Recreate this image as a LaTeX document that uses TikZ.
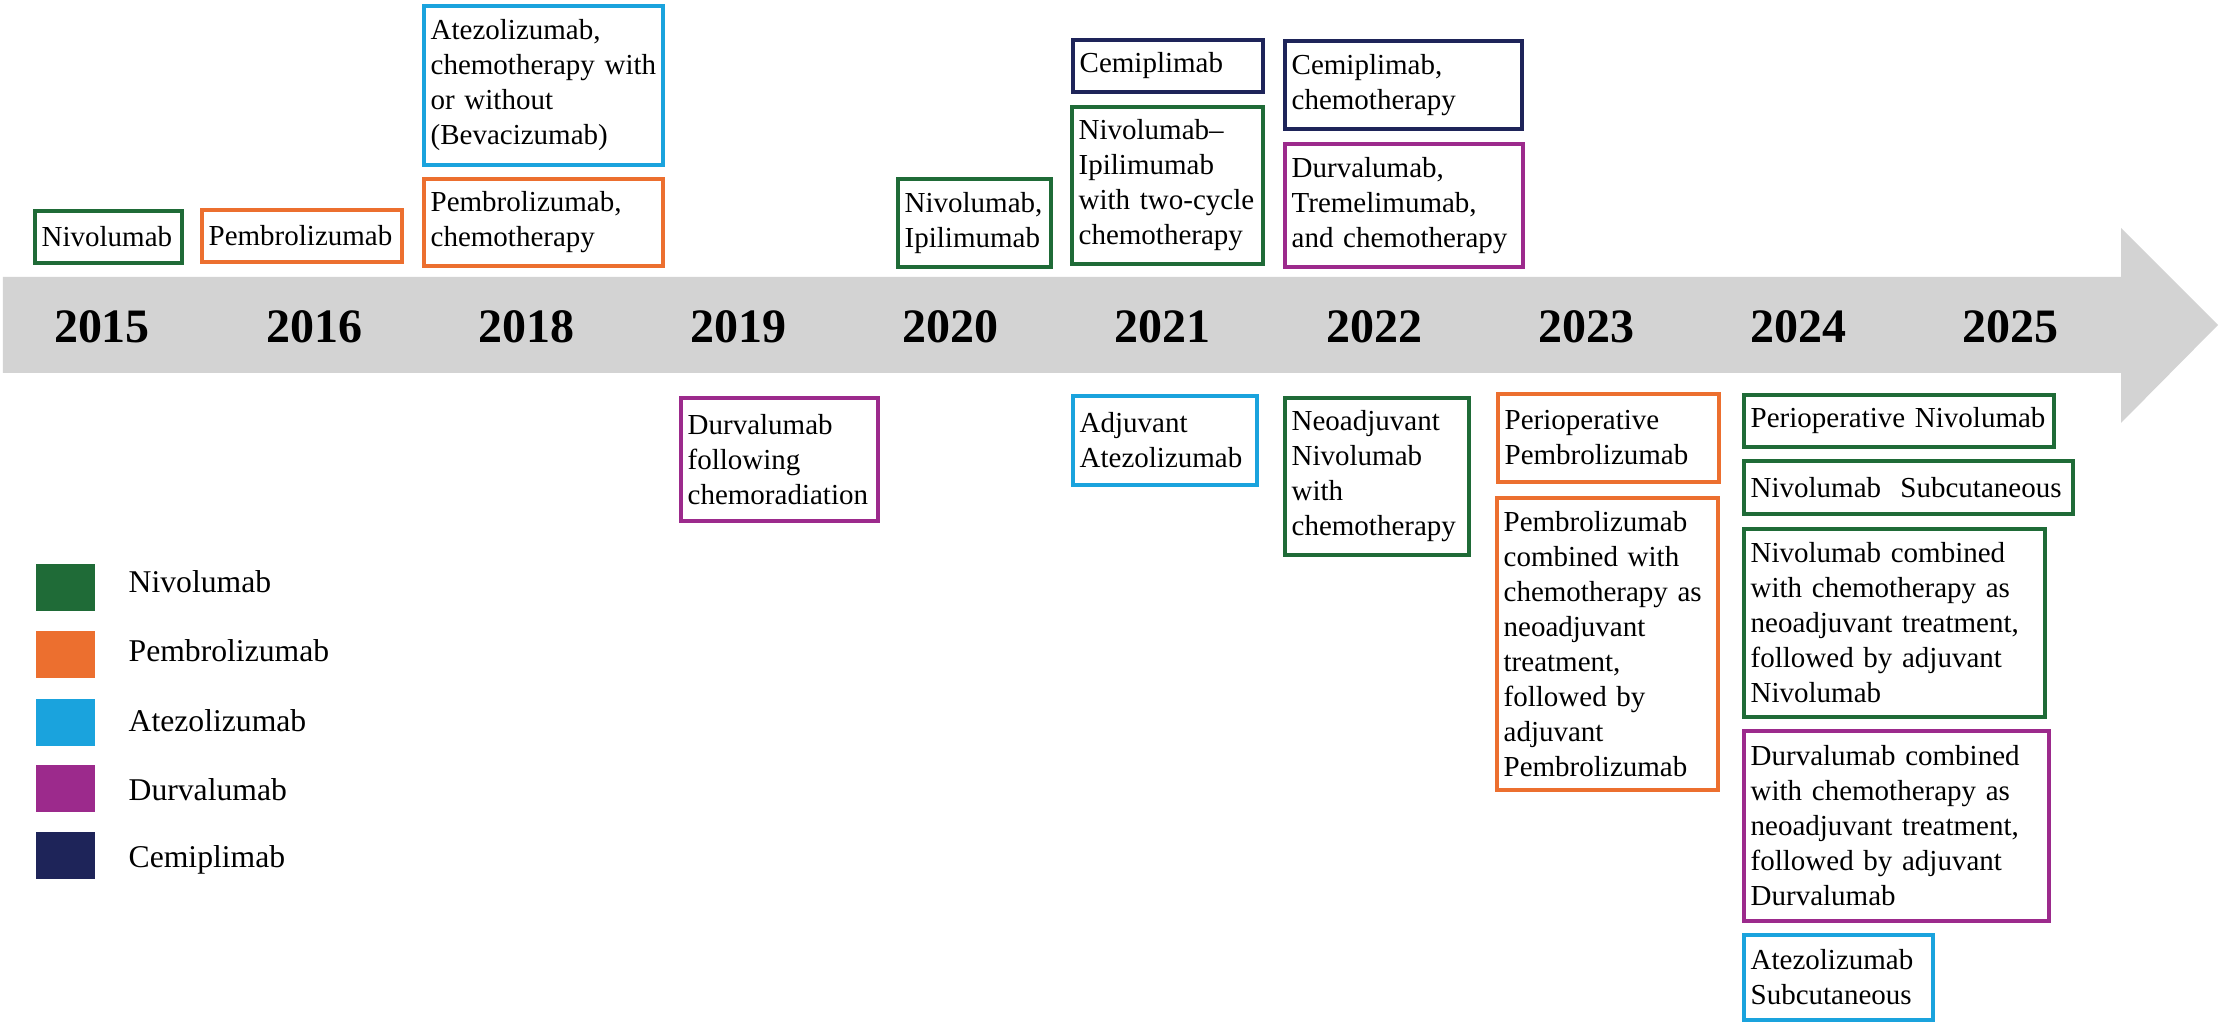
\documentclass[tikz,border=0pt]{standalone}
\usepackage{fontspec}
\setmainfont{Liberation Serif}
\definecolor{nivo}{RGB}{31,107,55}
\definecolor{pembro}{RGB}{236,111,47}
\definecolor{atezo}{RGB}{26,163,221}
\definecolor{durva}{RGB}{156,42,140}
\definecolor{cemi}{RGB}{30,36,89}
\definecolor{bandgray}{RGB}{211,211,211}
\newcommand\boxfont{\fontsize{8.7}{10.5}\selectfont}
\tikzset{
  drug/.style n args={3}{draw=#1, line width=1.2pt, anchor=north west,
    align=left, inner xsep=2pt, inner ysep=0pt, font=\boxfont,
    text width=#2*0.3pt-5.2pt, minimum height=#3*0.3pt},
  year/.style={font=\fontsize{14.4}{16}\selectfont\bfseries},
  legsq/.style={fill=#1, anchor=north west, inner sep=0pt,
    minimum width=17.7pt, minimum height=14.1pt},
  leglabel/.style={anchor=base west, inner sep=0pt, font=\fontsize{9.5}{11}\selectfont}
}
\begin{document}
\begin{tikzpicture}[x=0.3pt,y=-0.3pt]
    \useasboundingbox (0,0) rectangle (2223,1034);
    % timeline arrow
    \fill[bandgray] (3,277) -- (2121,277) -- (2121,228) -- (2218,325)
      -- (2121,423) -- (2121,373) -- (3,373) -- cycle;
    \node[year] (y2015) at (102,327) {2015};
    \node[year] (y2016) at (314,327) {2016};
    \node[year] (y2018) at (526,327) {2018};
    \node[year] (y2019) at (738,327) {2019};
    \node[year] (y2020) at (950,327) {2020};
    \node[year] (y2021) at (1162,327) {2021};
    \node[year] (y2022) at (1374,327) {2022};
    \node[year] (y2023) at (1586,327) {2023};
    \node[year] (y2024) at (1798,327) {2024};
    \node[year] (y2025) at (2010,327) {2025};
    % above the line
    \node[drug={nivo}{151}{52}] (nivo15) at (33,209) {Nivolumab};
    \node[drug={pembro}{204}{52}] (pembro16) at (200,208) {Pembrolizumab};
    \node[drug={atezo}{243}{159}] (atezo18) at (422,4)
      {Atezolizumab,\\chemotherapy~with\\or~without\\(Bevacizumab)};
    \node[drug={pembro}{243}{87}] (pembro18) at (422,177)
      {Pembrolizumab,\\chemotherapy};
    \node[drug={nivo}{157}{88}] (nivo20) at (896,177) {Nivolumab,\\Ipilimumab};
    \node[drug={cemi}{194}{52}] (cemi21) at (1071,38) {Cemiplimab};
    \node[drug={nivo}{195}{157}] (nivo21) at (1070,105)
      {Nivolumab--\\Ipilimumab\\with~two-cycle\\chemotherapy};
    \node[drug={cemi}{241}{88}] (cemi22) at (1283,39) {Cemiplimab,\\chemotherapy};
    \node[drug={durva}{242}{123}] (durva22) at (1283,142)
      {Durvalumab,\\Tremelimumab,\\and~chemotherapy};
    % below the line
    \node[drug={durva}{201}{123}] (durva19) at (679,396)
      {Durvalumab\\following\\chemoradiation};
    \node[drug={atezo}{188}{89}] (atezo21) at (1071,394) {Adjuvant\\Atezolizumab};
    \node[drug={nivo}{188}{157}] (nivo22) at (1283,396)
      {Neoadjuvant\\Nivolumab\\with\\chemotherapy};
    \node[drug={pembro}{225}{88}] (pembro23a) at (1496,392)
      {Perioperative\\Pembrolizumab};
    \node[drug={pembro}{225}{292}] (pembro23b) at (1495,496)
      {Pembrolizumab\\combined~with\\chemotherapy~as\\neoadjuvant\\treatment,\\followed~by\\adjuvant\\Pembrolizumab};
    \node[drug={nivo}{314}{52}] (nivo24a) at (1742,393) {Perioperative~Nivolumab};
    \node[drug={nivo}{333}{53}] (nivo24b) at (1742,459) {Nivolumab~~Subcutaneous};
    \node[drug={nivo}{305}{188}] (nivo24c) at (1742,527)
      {Nivolumab~combined\\with~chemotherapy~as\\neoadjuvant~treatment,\\followed~by~adjuvant\\Nivolumab};
    \node[drug={durva}{309}{190}] (durva24) at (1742,729)
      {Durvalumab~combined\\with~chemotherapy~as\\neoadjuvant~treatment,\\followed~by~adjuvant\\Durvalumab};
    \node[drug={atezo}{193}{85}] (atezo25) at (1742,933) {Atezolizumab\\Subcutaneous};
    % legend
    \node[legsq=nivo] (lnivo) at (35,563) {};
    \node[legsq=pembro] (lpembro) at (35,630) {};
    \node[legsq=atezo] (latezo) at (35,698) {};
    \node[legsq=durva] (ldurva) at (35,764) {};
    \node[legsq=cemi] (lcemi) at (35,831) {};
    \node[leglabel] (tnivo) at (128,593) {Nivolumab};
    \node[leglabel] (tpembro) at (128,662) {Pembrolizumab};
    \node[leglabel] (tatezo) at (128,732) {Atezolizumab};
    \node[leglabel] (tdurva) at (128,801) {Durvalumab};
    \node[leglabel] (tcemi) at (128,868) {Cemiplimab};
\end{tikzpicture}
\end{document}
